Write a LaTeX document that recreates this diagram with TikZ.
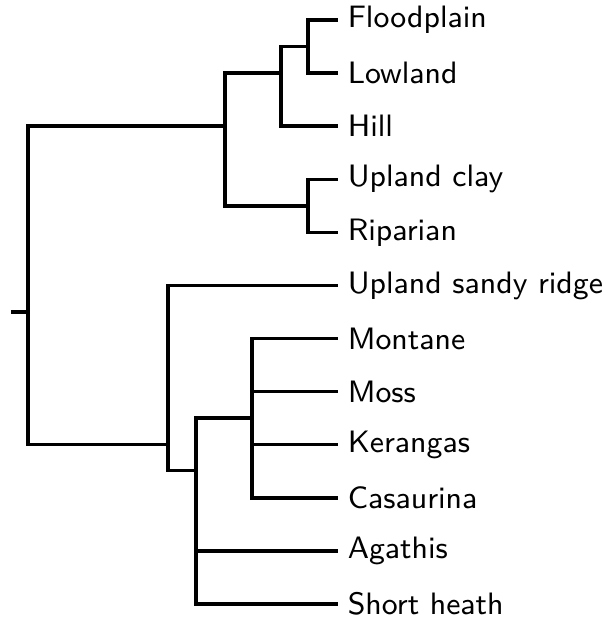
\documentclass[tikz,border=0pt]{standalone}
\usepackage{fontspec}
\usepackage{tikz}

\begin{document}
\begin{tikzpicture}[x=0.01cm,y=-0.01cm,line width=1pt,
  leaf/.style={anchor=west,inner xsep=0.08cm,inner ysep=0pt,
    font=\sffamily\fontsize{8.8}{10}\selectfont\addfontfeatures{LetterSpace=6}}]
\useasboundingbox (0,0) rectangle (616,620);
\node[leaf] (floodplain) at (338,20) {Floodplain};
\node[leaf] (lowland) at (338,73.1) {Lowland};
\node[leaf] (hill) at (338,126.2) {Hill};
\node[leaf] (uplandclay) at (338,179.3) {Upland clay};
\node[leaf] (riparian) at (338,232.4) {Riparian};
\node[leaf] (sandyridge) at (338,285.5) {Upland sandy ridge};
\node[leaf] (montane) at (338,338.5) {Montane};
\node[leaf] (moss) at (338,391.6) {Moss};
\node[leaf] (kerangas) at (338,444.7) {Kerangas};
\node[leaf] (casaurina) at (338,497.8) {Casaurina};
\node[leaf] (agathis) at (338,550.9) {Agathis};
\node[leaf] (shortheath) at (338,604) {Short heath};
\coordinate (root) at (28,312);
\coordinate (rootstub) at (11,312);
\coordinate (upper) at (225,126.2);
\coordinate (fhl) at (281,73.1);
\coordinate (fl) at (308,46.5);
\coordinate (ur) at (308,205.8);
\coordinate (lower) at (168,444.7);
\coordinate (heath) at (196,470.7);
\coordinate (mmkc) at (252,418.1);
\draw (rootstub) -- (root);
\draw (root) |- (upper);
\draw (root) |- (lower);
\draw (upper) |- (fhl);
\draw (upper) |- (ur);
\draw (fhl) |- (fl);
\draw (fhl) |- (hill.west);
\draw (fl) |- (floodplain.west);
\draw (fl) |- (lowland.west);
\draw (ur) |- (uplandclay.west);
\draw (ur) |- (riparian.west);
\draw (lower) |- (sandyridge.west);
\draw (lower) |- (heath);
\draw (heath) |- (mmkc);
\draw (heath) |- (agathis.west);
\draw (heath) |- (shortheath.west);
\draw (mmkc) |- (montane.west);
\draw (mmkc) |- (moss.west);
\draw (mmkc) |- (kerangas.west);
\draw (mmkc) |- (casaurina.west);
\end{tikzpicture}
\end{document}
